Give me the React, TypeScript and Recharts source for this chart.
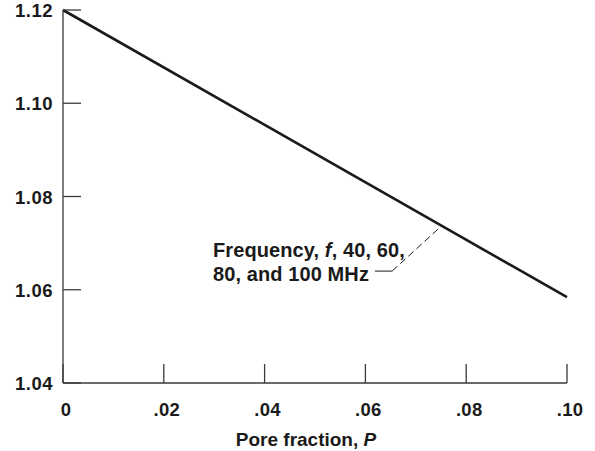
import { LineChart, Line, XAxis, YAxis, ReferenceLine, ReferenceDot } from 'recharts';

const poreFraction = [0, 0.1];
const ratio = [1.12, 1.0584];

const xTicks = [0, 0.02, 0.04, 0.06, 0.08, 0.1];
const xTickLabels = ['0', '.02', '.04', '.06', '.08', '.10'];
const yTicks = [1.04, 1.06, 1.08, 1.1, 1.12];
const yTickLabels = ['1.04', '1.06', '1.08', '1.10', '1.12'];

const data = poreFraction.map((p, i) => ({ p, v: ratio[i] }));

const FONT = '"Liberation Sans", Arial, Helvetica, sans-serif';
const INK = '#1a1a1a';
const AXIS = '#3a3a3a';

const XTick = (props: any) => {
  const { x, y, payload, index } = props;
  const i = index ?? xTicks.indexOf(payload.value);
  return (
    <g>
      <line x1={x} y1={y} x2={x} y2={y - 19} stroke={AXIS} strokeWidth={1.3} />
      <text x={x + 3} y={y + 33} textAnchor="middle" fontFamily={FONT} fontWeight="bold" fontSize={18.5} letterSpacing={0.3} fill={INK}>
        {xTickLabels[i]}
      </text>
    </g>
  );
};

const YTick = (props: any) => {
  const { x, y, payload, index } = props;
  const i = index ?? yTicks.indexOf(payload.value);
  return (
    <g>
      <line x1={x} y1={y} x2={x + 18} y2={y} stroke={AXIS} strokeWidth={1.3} />
      <text x={x - 10} y={y + 7} textAnchor="end" fontFamily={FONT} fontWeight="bold" fontSize={18.5} letterSpacing={0.5} fill={INK}>
        {yTickLabels[i]}
      </text>
    </g>
  );
};

const Note = (props: any) => {
  const { cx, cy } = props;
  return (
    <text x={cx} y={cy} fontFamily={FONT} fontWeight="bold" fontSize={20} letterSpacing={0.1} fill={INK}>
      <tspan x={cx} y={cy}>
        Frequency, <tspan fontStyle="italic">f</tspan>, 40, 60,
      </tspan>
      <tspan x={cx} y={cy + 23.5}>80, and 100 MHz</tspan>
    </text>
  );
};

export default function App() {
  return (
    <div style={{ position: 'absolute', left: 0, top: 0, background: '#fff' }}>
      <LineChart width={595} height={451} data={data} margin={{ top: 10, right: 28, bottom: 0, left: 8 }}>
        <XAxis
          dataKey="p"
          type="number"
          domain={[0, 0.1]}
          ticks={xTicks}
          interval={0}
          height={68}
          tickSize={0}
          tickMargin={0}
          tickLine={false}
          axisLine={{ stroke: AXIS, strokeWidth: 1.3 }}
          tick={<XTick />}
          label={{
            value: 'Pore fraction, P',
            position: 'insideBottom',
            offset: 5,
            content: (p: any) => {
              const vb = p.viewBox;
              const cx = vb.x + vb.width / 2;
              return (
                <text x={cx - 9} y={446} textAnchor="middle" fontFamily={FONT} fontWeight="bold" fontSize={19} fill={INK}>
                  Pore fraction, <tspan fontStyle="italic">P</tspan>
                </text>
              );
            },
          }}
        />
        <YAxis
          type="number"
          domain={[1.04, 1.12]}
          ticks={yTicks}
          interval={0}
          width={55}
          tickSize={0}
          tickMargin={0}
          tickLine={false}
          axisLine={{ stroke: AXIS, strokeWidth: 1.3 }}
          tick={<YTick />}
        />
        <ReferenceLine
          segment={[{ x: 0.0619, y: 1.064 }, { x: 0.0653, y: 1.064 }]}
          stroke={INK}
          strokeWidth={1}
        />
        <ReferenceLine
          segment={[{ x: 0.0653, y: 1.064 }, { x: 0.0748, y: 1.0734 }]}
          stroke={INK}
          strokeWidth={1}
          strokeDasharray="7 4"
        />
        <ReferenceDot x={0.02976} y={1.06702} r={0} shape={(p: any) => <Note {...p} />} />
        <Line
          dataKey="v"
          stroke={INK}
          strokeWidth={2.6}
          dot={false}
          isAnimationActive={false}
        />
      </LineChart>
    </div>
  );
}
